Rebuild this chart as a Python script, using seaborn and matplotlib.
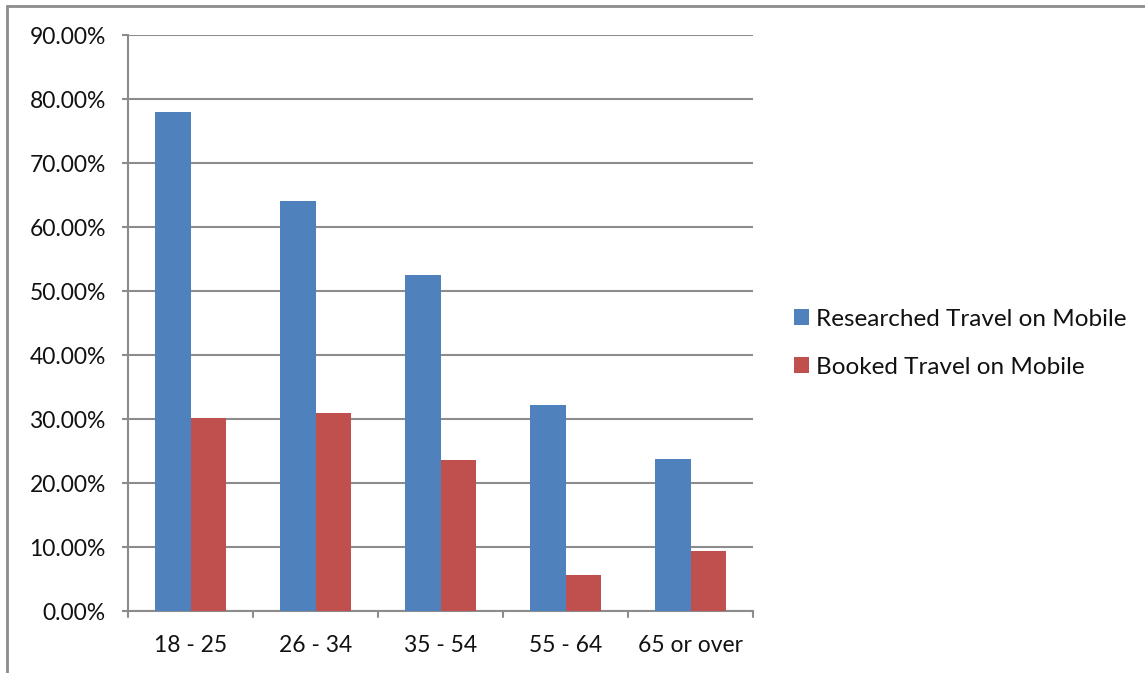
import matplotlib
matplotlib.use("Agg")
import matplotlib.pyplot as plt
import seaborn as sns
import pandas as pd
from matplotlib.lines import Line2D
from matplotlib.ticker import FuncFormatter, MultipleLocator

age_groups = ["18 - 25", "26 - 34", "35 - 54", "55 - 64", "65 or over"]
researched = [78.0, 64.1, 52.5, 32.2, 23.7]
booked = [30.2, 30.9, 23.6, 5.7, 9.4]
series_names = ["Researched Travel on Mobile", "Booked Travel on Mobile"]
colors = ["#4F81BD", "#C0504D"]

df = pd.DataFrame({
    "age": age_groups * 2,
    "series": [series_names[0]] * len(age_groups) + [series_names[1]] * len(age_groups),
    "value": researched + booked,
})

sns.set_style("white")
plt.rcParams["font.family"] = ["Lato", "DejaVu Sans"]

W, H = 1145, 673
fig = plt.figure(figsize=(W / 100, H / 100), dpi=100)
ax = fig.add_axes([128 / W, 1 - 611 / H, (753 - 128) / W, (611 - 35) / H])

sns.barplot(data=df, x="age", y="value", hue="series", palette=colors,
            width=0.571, gap=0, saturation=1, linewidth=0, ax=ax,
            legend=True, zorder=3)

ax.set_ylim(0, 90)
ax.set_xlim(-0.5, len(age_groups) - 0.5)
ax.yaxis.set_major_locator(MultipleLocator(10))
ax.yaxis.set_major_formatter(FuncFormatter(lambda v, _: f"{v:.2f}%"))
ax.yaxis.grid(True, color="#8C8C8C", linewidth=1.5, zorder=0)
ax.set_axisbelow(True)
ax.set_xlabel("")
ax.set_ylabel("")

for side in ["top", "right"]:
    ax.spines[side].set_visible(False)
for side in ["left", "bottom"]:
    ax.spines[side].set_color("#8C8C8C")
    ax.spines[side].set_linewidth(1.5)

ax.tick_params(axis="y", length=4.5, width=1.5, color="#8C8C8C", labelsize=16.5,
               pad=11.5, left=True, labelcolor="#111111")
ax.tick_params(axis="x", length=0, labelsize=16.5, pad=17.5, labelcolor="#111111")

# category boundary ticks on the x axis
for b in range(len(age_groups) + 1):
    ax.plot([b - 0.5, b - 0.5], [0, -1.0], color="#8C8C8C", lw=1.5,
            clip_on=False, zorder=4)

leg = ax.legend(loc="center left", bbox_to_anchor=(1.03, 0.465), frameon=False,
                fontsize=17.5, handlelength=0.63, handleheight=0.63,
                handletextpad=0.3, labelspacing=1.1)
for t in leg.get_texts():
    t.set_color("#111111")

# outer chart frame
fig.add_artist(Line2D([7 / W, 7 / W], [0, 1 - 6 / H], color="#8C8C8C", lw=2))
fig.add_artist(Line2D([7 / W, 1], [1 - 6 / H, 1 - 6 / H], color="#8C8C8C", lw=2))

fig.savefig("out.png", dpi=100)
